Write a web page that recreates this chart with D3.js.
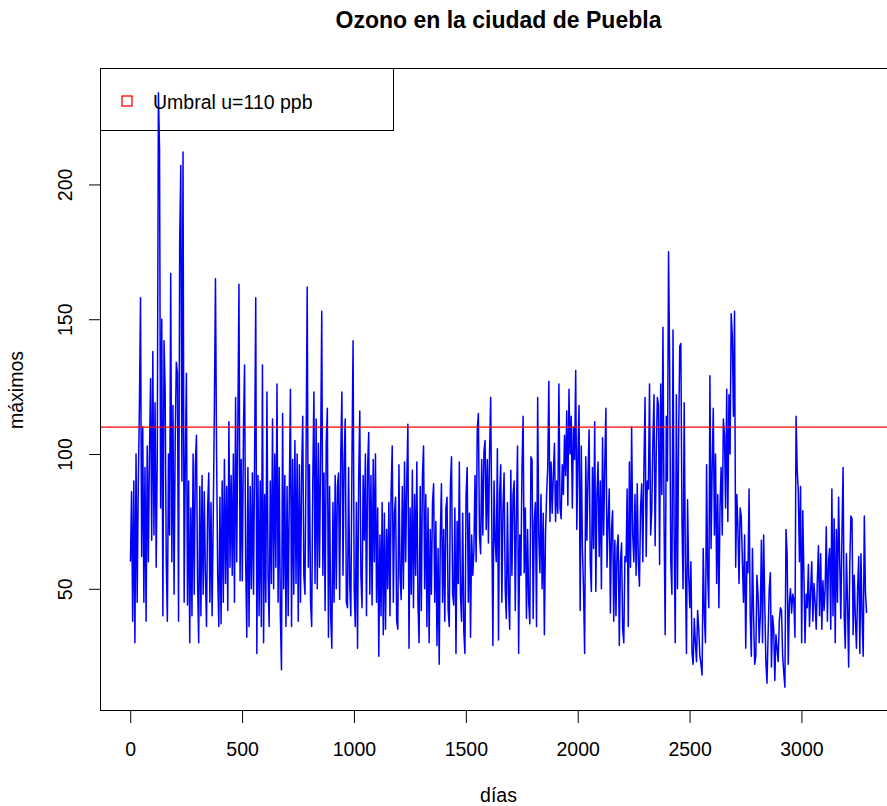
<!DOCTYPE html>
<html>
<head>
<meta charset="utf-8">
<script src="https://cdn.jsdelivr.net/npm/d3@7"></script>
<style>
  body { margin: 0; background: #fff; }
  svg { display: block; overflow: hidden; }
  text { font-family: "Liberation Sans", Arial, Helvetica, sans-serif; }
</style>
</head>
<body>
<div id="vis"></div>
<script>
// maximos diarios de ozono (ppb), un valor cada 5 dias
var tramo1 = [
  60,86,38,90,30,100,45,88,117,158,
  62,110,45,95,38,103,60,100,128,68,
  138,70,119,58,100,234,213,80,150,40,
  142,125,60,38,100,70,167,60,118,48,
  105,134,130,38,178,207,90,212,45,95,
  130,44,90,30,80,40,100,48,96,107,
  52,30,88,40,92,48,86,55,36,80,
  93,45,82,40,76,116,165,100,55,36,
  84,37,90,45,98,52,88,42,112,58,
  92
];
var tramo2 = [
  55,100,45,121,60,110,163,53,98,53,
  108,133,60,32,95,36,88,50,93,48,
  100,158,26,92,40,90,36,133,30,85,
  45,123,55,36,90,52,113,50,100,58,
  126,45,95,40,20,115,50,92,36,88,
  40,85,124,36,98,48,105,52,100,38,
  96,45,92,114,55,48,100,162,58,96,
  45,36,90,123,52,113,50,104,58,100,
  153,55,93,42,104,117,32,88,40,28,
  82,45,92,50,88,93,46,100,123,55,
  98,113,45,43,95,52,40,98,142,50,
  36,82,28,90,116,55,43,92
];
var tramo3 = [
  68,100,40,95,108,48,92,44,98,60,
  100,45,80,25,70,40,82,33,78,35,
  72,50,82,40,86,103,45,78,84,38,
  35,96,55,46,88,50,97,60,90,111,
  28,80,48,94,43,85,55,97,45,30,
  88,42,92,103,50,85,36,80,30,72,
  48,82,89,45,75,29,65,22,70,89,
  45,72,38,80,84,42,36,88,99,48,
  44,80,26,75,52,97,48,38,78,34,
  26,85,95,45,78,32,70,55,64,92,
  60,109,115,70,63,98,70,101,105,72,
  98,67,100,121,75,29,90,68
];
var tramo4 = [
  60,102,31,85,96,45,80,93,50,39,
  82,48,35,94,55,85,90,42,78,103,
  26,70,55,95,114,56,80,39,72,45,
  37,99,98,39,75,82,36,121,70,56,
  85,50,78,33,70,85,95,127,75,97,
  78,92,104,75,90,78,126,80,76,96,
  85,107,92,116,81,124,100,114,80,110,
  98,131,72,100,118,42,103,65,50,26,
  99,68,92,109,60,49,95,65,112,49,
  85,97,62,90,50,106,70,96,117,58,
  75,87,41,72,79,38,68,40,65,70,
  29,60,67,35,30,62,60,87
];
var tramo5 = [
  36,97,58,110,70,60,85,55,89,60,
  51,80,89,60,95,121,62,90,87,126,
  70,79,105,122,66,100,121,118,59,126,
  85,147,75,33,114,90,175,133,60,48,
  146,70,30,122,50,105,140,141,75,50,
  119,60,26,83,55,43,60,26,22,39,
  30,23,42,35,25,22,18,65,40,30,
  96,55,43,129,65,95,117,70,100,52,
  85,43,80,95,70,113,107,80,124,75,
  122,100,152,144,114,153,58,85,73,52,
  80,77,60,45,70,28,60,56,87,40,
  25,65,40,22,25,55,48,30
];
var tramo6 = [
  40,68,30,70,45,23,15,33,50,56,
  21,40,35,16,33,28,23,38,43,42,
  25,19,13.5,72,63,22,45,50,41,48,
  46,32,114,94,86,60,88,30,79,55,
  30,48,43,59,36,49,60,38,52,45,
  35,53,66,40,63,35,53,42,50,73,
  38,60,65,35,87,40,76,30,72,45,
  84,60,39,70,95,40,28,63,45,21,
  59,77,76,33,55,39,28,50,62,26,
  63,40,25,77,49,41
];

var maximos = [].concat(tramo1, tramo2, tramo3, tramo4, tramo5, tramo6);
var primerDia = 1;
var paso = 5;

var umbral = 110;
var ticksX = [0, 500, 1000, 1500, 2000, 2500, 3000];
var ticksY = [50, 100, 150, 200];

var titulo = 'Ozono en la ciudad de Puebla';
var etiquetaX = 'días';
var etiquetaY = 'máximos';
var textoLeyenda = 'Umbral u=110 ppb';

// tamano de la figura y caja del grafico
var width = 887;
var height = 806;
var box = { left: 101, top: 69, right: 896, bottom: 711 };

var datos = maximos.map(function (v, i) {
  return { dia: primerDia + i * paso, valor: v };
});

// rango con 4% extra a cada lado, como R
function rangoR(ext) {
  var d = (ext[1] - ext[0]) * 0.04;
  return [ext[0] - d, ext[1] + d];
}

var x = d3.scaleLinear()
  .domain(rangoR(d3.extent(datos, function (d) { return d.dia; })))
  .range([box.left, box.right]);

var y = d3.scaleLinear()
  .domain(rangoR(d3.extent(datos, function (d) { return d.valor; })))
  .range([box.bottom, box.top]);

var svg = d3.select('#vis').append('svg')
  .attr('width', width)
  .attr('height', height);

// serie
var line = d3.line()
  .x(function (d) { return x(d.dia); })
  .y(function (d) { return y(d.valor); });

svg.append('path')
  .datum(datos)
  .attr('d', line)
  .attr('fill', 'none')
  .attr('stroke', '#0000ff')
  .attr('stroke-width', 1.5)
  .attr('stroke-linejoin', 'round');

// umbral
svg.append('line')
  .attr('x1', box.left)
  .attr('x2', box.right)
  .attr('y1', y(umbral))
  .attr('y2', y(umbral))
  .attr('stroke', '#ff0000')
  .attr('stroke-width', 1.3);

// ejes
var ejeX = svg.append('g')
  .attr('transform', 'translate(0,' + box.bottom + ')')
  .call(d3.axisBottom(x).tickValues(ticksX).tickSize(12).tickFormat(d3.format('d')));
ejeX.select('.domain').remove();
ejeX.selectAll('line').attr('stroke', '#000');
ejeX.selectAll('text')
  .attr('y', 45)
  .attr('dy', null)
  .attr('fill', '#000')
  .style('font-size', '19.5px')
  .style('font-family', '"Liberation Sans", Arial, sans-serif');

var ejeY = svg.append('g')
  .attr('transform', 'translate(' + box.left + ',0)')
  .call(d3.axisLeft(y).tickValues(ticksY).tickSize(12).tickFormat(d3.format('d')));
ejeY.select('.domain').remove();
ejeY.selectAll('line').attr('stroke', '#000');
ejeY.selectAll('text')
  .attr('x', 0)
  .attr('y', -29)
  .attr('dy', null)
  .attr('transform', 'rotate(-90)')
  .attr('text-anchor', 'middle')
  .attr('fill', '#000')
  .style('font-size', '19.5px')
  .style('font-family', '"Liberation Sans", Arial, sans-serif');

// caja
svg.append('rect')
  .attr('x', box.left - 0.5)
  .attr('y', box.top - 0.5)
  .attr('width', box.right - box.left)
  .attr('height', box.bottom - box.top)
  .attr('fill', 'none')
  .attr('stroke', '#000')
  .attr('stroke-width', 1);

// leyenda (sin fondo, como en R)
var leyenda = svg.append('g');
leyenda.append('rect')
  .attr('x', box.left - 0.5)
  .attr('y', box.top - 0.5)
  .attr('width', 293)
  .attr('height', 62)
  .attr('fill', 'none')
  .attr('stroke', '#000');
leyenda.append('rect')
  .attr('x', 122)
  .attr('y', 96)
  .attr('width', 10)
  .attr('height', 10)
  .attr('fill', 'none')
  .attr('stroke', '#ff0000')
  .attr('stroke-width', 1.3);
leyenda.append('text')
  .attr('x', 153)
  .attr('y', 108.5)
  .style('font-size', '19.5px')
  .text(textoLeyenda);

// titulo y etiquetas
svg.append('text')
  .attr('x', (box.left + box.right) / 2)
  .attr('y', 28)
  .attr('text-anchor', 'middle')
  .style('font-size', '23px')
  .style('font-weight', 'bold')
  .text(titulo);

svg.append('text')
  .attr('x', (box.left + box.right) / 2)
  .attr('y', 802)
  .attr('text-anchor', 'middle')
  .style('font-size', '19.5px')
  .text(etiquetaX);

svg.append('text')
  .attr('transform', 'translate(23,' + ((box.top + box.bottom) / 2) + ') rotate(-90)')
  .attr('text-anchor', 'middle')
  .style('font-size', '19.5px')
  .text(etiquetaY);
</script>
</body>
</html>
